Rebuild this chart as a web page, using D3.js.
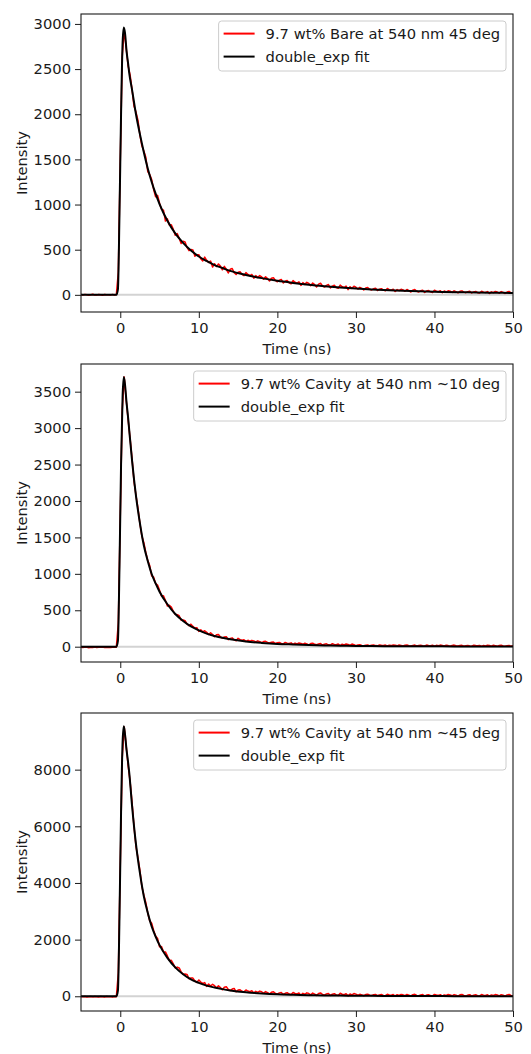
<!DOCTYPE html>
<html>
<head>
<meta charset="utf-8">
<script src="https://cdn.jsdelivr.net/npm/d3@7"></script>
<style>
  body { margin: 0; background: white; }
</style>
</head>
<body>
<script>

// measurement times (ns), every 0.25 ns
const dataTime = [
  -5, -4.75, -4.5, -4.25, -4, -3.75, -3.5, -3.25, -3, -2.75, -2.5, -2.25, -2, -1.75, -1.5, -1.25, -1, -0.75, -0.5, -0.25,
  0, 0.25, 0.5, 0.75, 1, 1.25, 1.5, 1.75, 2, 2.25, 2.5, 2.75, 3, 3.25, 3.5, 3.75, 4, 4.25, 4.5, 4.75,
  5, 5.25, 5.5, 5.75, 6, 6.25, 6.5, 6.75, 7, 7.25, 7.5, 7.75, 8, 8.25, 8.5, 8.75, 9, 9.25, 9.5, 9.75,
  10, 10.25, 10.5, 10.75, 11, 11.25, 11.5, 11.75, 12, 12.25, 12.5, 12.75, 13, 13.25, 13.5, 13.75, 14, 14.25, 14.5, 14.75,
  15, 15.25, 15.5, 15.75, 16, 16.25, 16.5, 16.75, 17, 17.25, 17.5, 17.75, 18, 18.25, 18.5, 18.75, 19, 19.25, 19.5, 19.75,
  20, 20.25, 20.5, 20.75, 21, 21.25, 21.5, 21.75, 22, 22.25, 22.5, 22.75, 23, 23.25, 23.5, 23.75, 24, 24.25, 24.5, 24.75,
  25, 25.25, 25.5, 25.75, 26, 26.25, 26.5, 26.75, 27, 27.25, 27.5, 27.75, 28, 28.25, 28.5, 28.75, 29, 29.25, 29.5, 29.75,
  30, 30.25, 30.5, 30.75, 31, 31.25, 31.5, 31.75, 32, 32.25, 32.5, 32.75, 33, 33.25, 33.5, 33.75, 34, 34.25, 34.5, 34.75,
  35, 35.25, 35.5, 35.75, 36, 36.25, 36.5, 36.75, 37, 37.25, 37.5, 37.75, 38, 38.25, 38.5, 38.75, 39, 39.25, 39.5, 39.75,
  40, 40.25, 40.5, 40.75, 41, 41.25, 41.5, 41.75, 42, 42.25, 42.5, 42.75, 43, 43.25, 43.5, 43.75, 44, 44.25, 44.5, 44.75,
  45, 45.25, 45.5, 45.75, 46, 46.25, 46.5, 46.75, 47, 47.25, 47.5, 47.75, 48, 48.25, 48.5, 48.75, 49, 49.25, 49.5, 49.75,
  50];

const bare45Counts = [
  3, -2, 5, 0, -4, 2, 6, -1, -3, 4, 1, -5, 3, 0, 2, -3, 5, -1, 4,
  250, 1480, 2640, 2930,
  2738, 2533, 2436, 2273, 2088, 2024, 1935, 1771, 1650, 1592, 1523, 1366, 1331, 1277, 1167, 1087, 1102, 1014, 949, 938, 817, 841,
  774, 775, 725, 660, 678, 626, 568, 593, 586, 525, 489, 501, 498, 428, 445, 445, 399, 375, 418, 382,
  359, 374, 308, 345, 313, 342, 318, 277, 315, 283, 242, 283, 292, 246, 226, 251,
  255, 227, 213, 246, 225, 213, 226, 184, 213, 192, 214, 199, 172, 200, 180, 154, 183, 190, 159, 145,
  163, 171, 131, 151, 159, 134, 123, 158, 139, 129, 144, 104, 135, 116, 139, 126, 101, 131, 113, 88,
  119, 128, 98, 86, 105, 114, 76, 97, 106, 81, 72, 108, 90, 81, 97, 58, 90, 72, 96, 84,
  64, 83, 71, 55, 75, 81, 62, 54, 67, 73, 48, 62, 68, 52, 46, 70, 58, 52, 63, 37,
  58, 46, 62, 55, 39, 59, 47, 31, 52, 59, 40, 32, 45, 52, 27, 42, 48, 33, 27, 52,
  40, 35, 45, 24, 42, 32, 45, 40, 27, 44, 34, 22, 39, 44, 30, 24, 34, 40, 21, 32,
  37, 24, 20, 40, 30, 26, 36, 16, 33, 24, 37, 31, 19, 36, 27, 15, 31, 37, 23, 17];

const cav10Counts = [
  -8, -11, -6, -9, -13, -7, -10, -5, -12, -8, -9, -6, -11, -10, -7, -12, -8, -9, -6,
  320, 1780, 3250, 3700,
  3392, 3115, 2860, 2583, 2267, 2076,
  1903, 1691, 1519, 1427, 1293, 1181, 1114, 973, 954, 867, 847, 776, 697, 699, 633, 559,
  568, 545, 485, 444, 439, 425, 365, 366, 356, 314, 288, 309, 278, 256, 261, 210, 232, 204, 219, 198,
  167, 191, 167, 137, 163, 168, 133, 117, 133, 138, 96, 114, 121, 93, 81, 115,
  97, 89, 96, 73, 88, 77, 87, 80, 65, 80, 69, 55, 70, 74, 58, 51, 60, 64, 44, 54,
  58, 45, 40, 59, 49, 44, 53, 32, 49, 39, 51, 45, 33, 49, 39, 26, 43, 48, 33, 27,
  37, 43, 23, 34, 39, 26, 22, 41, 32, 27, 37, 16, 34, 25, 37, 32, 19, 36, 27, 14,
  24, 28, 18, 14, 21, 25, 12, 20, 23, 15, 12, 25, 20, 17, 22, 9, 21, 15, 24, 20,
  12, 23, 18, 9, 20, 24, 14, 11, 18, 22, 9, 16, 20, 12, 9, 22, 17, 14, 20, 7,
  19, 13, 22, 17, 9, 20, 15, 7, 18, 22, 12, 9, 15, 19, 6, 14, 18, 10, 7, 20,
  15, 12, 18, 5, 17, 11, 20, 16, 8, 19, 13, 5, 16, 20, 10, 7, 14, 18, 5, 13];

const cav45Counts = [
  -12, -20, -8, -25, -15, -5, -22, -10, -18, -28, -6, -16, -24, -9, -20, -13, -27, -7, -15,
  820, 4600, 8420, 9510,
  8848, 8138, 7588, 6844, 5985, 5290,
  4889, 4449, 3872, 3570, 3309, 2941, 2658, 2576, 2326, 2127, 2041, 1746, 1754, 1572, 1566, 1424,
  1263, 1271, 1141, 998, 1030, 1000, 860, 775, 787, 772, 618, 644, 643, 544, 491, 576, 501, 453, 483, 348,
  430, 362, 423, 375, 292, 373, 310, 229, 316, 336, 243, 201, 254, 277, 159, 218,
  229, 177, 155, 223, 184, 163, 193, 113, 174, 136, 182, 157, 107, 166, 129, 81, 143, 161, 103, 79,
  119, 137, 63, 106, 125, 78, 61, 134, 99, 83, 117, 40, 105, 70, 120, 97, 51, 113, 78, 32,
  97, 117, 62, 40, 81, 101, 28, 72, 92, 46, 30, 105, 71, 55, 90, 15, 80, 46, 97, 75,
  29, 70, 48, 18, 61, 75, 39, 24, 52, 66, 17, 47, 61, 30, 20, 70, 47, 37, 61, 10,
  54, 32, 65, 51, 21, 63, 40, 10, 54, 68, 32, 17, 45, 59, 11, 41, 54, 24, 14, 64,
  42, 32, 56, 6, 49, 27, 61, 47, 17, 59, 37, 7, 50, 64, 28, 14, 42, 56, 8, 38,
  52, 22, 12, 62, 40, 30, 54, 4, 48, 26, 59, 45, 15, 57, 35, 5, 49, 63, 27, 13];

// double exponential fit curves, sampled
const fitTime = [-5, -1, -0.5, -0.3, -0.1, 0.1, 0.3, 0.45, 0.6, 0.8, 1, 1.15, 1.5, 2, 2.5, 3, 3.5, 4, 4.5, 5,
  6, 7, 8, 9, 10, 11, 12, 13, 14, 16, 18, 20, 22, 24, 26, 28, 30, 32, 35, 38, 41, 44, 47, 50];

const bare45Fit = [0, 0, 0, 60, 900, 2000, 2800, 2960, 2900, 2700, 2560, 2450, 2270, 2000, 1780, 1580, 1400, 1250, 1120, 1005,
  820, 680, 575, 490, 425, 375, 330, 297, 265, 220, 185, 155, 132, 112, 96, 82, 70, 60, 48, 39, 32, 28, 24, 21];

const cav10Fit = [0, 0, 0, 80, 1100, 2500, 3450, 3700, 3600, 3350, 3140, 2960, 2555, 2071, 1696, 1388, 1177, 998, 868, 755,
  582, 449, 353, 278, 223, 179, 148, 122, 101, 71, 52, 38, 30, 23, 18, 14, 11, 9, 7, 6, 5, 4, 4, 3];

const cav45Fit = [0, 0, 0, 200, 2800, 6500, 9000, 9530, 9250, 8700, 8250, 7870, 6724, 5370, 4353, 3528, 2947, 2462, 2109, 1806,
  1358, 1021, 780, 595, 473, 376, 308, 252, 206, 141, 99, 69, 52, 39, 30, 23, 17, 14, 10, 8, 6, 4, 4, 3];

const xTicks = [0, 10, 20, 30, 40, 50];
const yTicksBare45 = [0, 500, 1000, 1500, 2000, 2500, 3000];
const yTicksCav10 = [0, 500, 1000, 1500, 2000, 2500, 3000, 3500];
const yTicksCav45 = [0, 2000, 4000, 6000, 8000];

const seriesLabels = ["9.7 wt% Bare at 540 nm 45 deg", "9.7 wt% Cavity at 540 nm ~10 deg", "9.7 wt% Cavity at 540 nm ~45 deg"];
const fitLabel = "double_exp fit";


const W = 531, H = 1054;
const left = 81, right = 513, plotH = 298;
const font = "DejaVu Sans, sans-serif";
const fontSize = "14.7px";
const ink = "#1a1a1a";

let svg = d3.select("body").append("svg")
  .attr("width", W)
  .attr("height", H)
  .style("background-color", "white");

let defs = svg.append("defs");

let panels = [
  { counts: bare45Counts, fit: bare45Fit, label: seriesLabels[0], yDomain: [-190, 3110], yTicks: yTicksBare45, top: 14, clipTop: 0, clipBottom: 355 },
  { counts: cav10Counts, fit: cav10Fit, label: seriesLabels[1], yDomain: [-210, 3880], yTicks: yTicksCav10, top: 364, clipTop: 355, clipBottom: 704 },
  { counts: cav45Counts, fit: cav45Fit, label: seriesLabels[2], yDomain: [-520, 10000], yTicks: yTicksCav45, top: 713, clipTop: 704, clipBottom: H }
];

panels.forEach((p, i) => {

  // each sub figure is cut off just under its x label
  defs.append("clipPath").attr("id", "panel" + i)
    .append("rect")
      .attr("x", 0).attr("y", p.clipTop)
      .attr("width", W).attr("height", p.clipBottom - p.clipTop);

  defs.append("clipPath").attr("id", "plot" + i)
    .append("rect")
      .attr("x", left).attr("y", p.top)
      .attr("width", right - left).attr("height", plotH);

  let g = svg.append("g").attr("clip-path", "url(#panel" + i + ")");

  g.append("rect")
    .attr("x", 0).attr("y", p.clipTop)
    .attr("width", W).attr("height", p.clipBottom - p.clipTop)
    .attr("fill", "white");

  let x = d3.scaleLinear().domain([-5, 50]).range([left, right]);
  let y = d3.scaleLinear().domain(p.yDomain).range([p.top + plotH, p.top]);

  let plot = g.append("g").attr("clip-path", "url(#plot" + i + ")");

  // zero line
  plot.append("line")
    .attr("x1", left).attr("x2", right)
    .attr("y1", y(0)).attr("y2", y(0))
    .attr("stroke", "#d3d3d3")
    .attr("stroke-width", 2);

  let dataLine = d3.line()
    .x((d, k) => x(dataTime[k]))
    .y(d => y(d));

  plot.append("path")
    .datum(p.counts)
    .attr("d", dataLine)
    .attr("fill", "none")
    .attr("stroke", "#ff0000")
    .attr("stroke-width", 1.5)
    .attr("stroke-linejoin", "round");

  let fitLine = d3.line()
    .x((d, k) => x(fitTime[k]))
    .y(d => y(d))
    .curve(d3.curveMonotoneX);

  plot.append("path")
    .datum(p.fit)
    .attr("d", fitLine)
    .attr("fill", "none")
    .attr("stroke", "black")
    .attr("stroke-width", 2)
    .attr("stroke-linejoin", "round");

  // axes
  let xAxis = g.append("g")
    .attr("transform", "translate(0," + (p.top + plotH) + ")")
    .call(d3.axisBottom(x).tickValues(xTicks).tickFormat(d3.format("d")).tickSize(6).tickPadding(5));

  let yAxis = g.append("g")
    .attr("transform", "translate(" + left + ",0)")
    .call(d3.axisLeft(y).tickValues(p.yTicks).tickFormat(d3.format("d")).tickSize(6).tickPadding(4));

  [xAxis, yAxis].forEach(a => {
    a.select(".domain").remove();
    a.selectAll("line").attr("stroke", ink).attr("stroke-width", 1);
    a.selectAll("text")
      .attr("fill", ink)
      .style("font-family", font)
      .style("font-size", fontSize);
  });

  g.append("rect")
    .attr("x", left).attr("y", p.top)
    .attr("width", right - left).attr("height", plotH)
    .attr("fill", "none")
    .attr("stroke", ink)
    .attr("stroke-width", 1.1);

  g.append("text")
    .attr("x", (left + right) / 2)
    .attr("y", p.top + plotH + 42)
    .attr("text-anchor", "middle")
    .attr("fill", ink)
    .style("font-family", font)
    .style("font-size", fontSize)
    .text("Time (ns)");

  g.append("text")
    .attr("transform", "translate(26.5," + (p.top + plotH / 2) + ") rotate(-90)")
    .attr("text-anchor", "middle")
    .attr("fill", ink)
    .style("font-family", font)
    .style("font-size", fontSize)
    .text("Intensity");

  // legend
  let leg = g.append("g");
  let box = leg.append("rect")
    .attr("rx", 3)
    .attr("fill", "white")
    .attr("fill-opacity", 0.8)
    .attr("stroke", "#cccccc")
    .attr("stroke-width", 1);

  let items = [{ name: p.label, color: "#ff0000" }, { name: fitLabel, color: "black" }];
  let widest = 0;
  let texts = leg.selectAll(null)
    .data(items)
    .enter()
      .append("text")
        .attr("fill", ink)
        .style("font-family", font)
        .style("font-size", fontSize)
        .text(d => d.name);
  texts.each(function() { widest = Math.max(widest, this.getComputedTextLength()); });

  let boxW = widest + 47 + 6;
  let boxX = right - 7 - boxW;
  let boxY = p.top + 7;
  box.attr("x", boxX).attr("y", boxY).attr("width", boxW).attr("height", 50);
  texts.attr("x", boxX + 47).attr("y", (d, k) => boxY + 17.8 + k * 23);

  leg.selectAll(null)
    .data(items)
    .enter()
      .append("line")
        .attr("x1", boxX + 5).attr("x2", boxX + 36)
        .attr("y1", (d, k) => boxY + 12.6 + k * 23)
        .attr("y2", (d, k) => boxY + 12.6 + k * 23)
        .attr("stroke", d => d.color)
        .attr("stroke-width", 2);
});

</script>
</body>
</html>
